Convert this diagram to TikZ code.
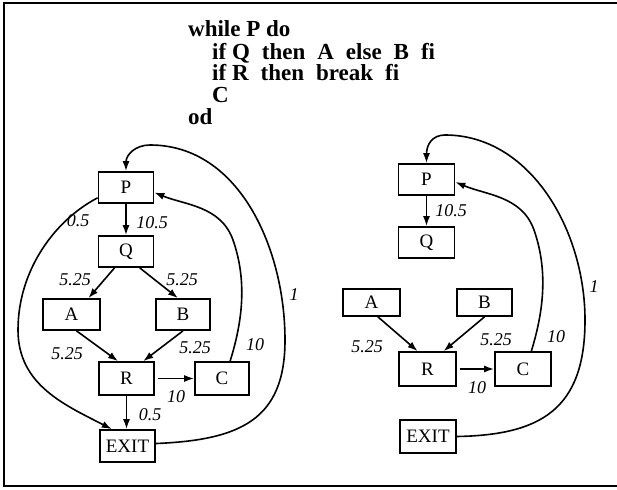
\documentclass[tikz,border=0pt]{standalone}
\usepackage{fontspec}
\setmainfont{Liberation Serif}
\usetikzlibrary{arrows.meta}
\newcommand{\gp}{\hspace{12pt}}
\tikzset{
  box/.style={draw, line width=1.7pt, inner sep=0pt, font=\fontsize{19}{19}\selectfont},
  edge/.style={line width=1.6pt, -{Latex[length=10pt,width=7pt]}},
  lbl/.style={font=\fontsize{18}{18}\selectfont\itshape, inner sep=0pt},
  code/.style={font=\fontsize{23}{23}\selectfont\bfseries, inner sep=0pt, anchor=base west},
}
\begin{document}
\begin{tikzpicture}[x=1pt,y=1pt]
\useasboundingbox (0,0) rectangle (617,-489);
\draw[line width=2.2pt] (617,-3) -- (4,-3) -- (4,-486) -- (617,-486);

% code
\node[code] (c1) at (188,-37) {while P do};
\node[code] (c2) at (212,-59.5) {if Q\gp then\gp A\gp else\gp B\gp fi};
\node[code] (c3) at (212,-81) {if R\gp then\gp break\gp fi};
\node[code] (c4) at (212,-103) {C};
\node[code] (c5) at (188,-125) {od};

% left graph
\node[box, minimum width=55pt, minimum height=31pt] (P) at (126,-187.5) {P};
\node[box, minimum width=55pt, minimum height=31pt] (Q) at (126,-251.5) {Q};
\node[box, minimum width=57pt, minimum height=31pt] (A) at (71.5,-314.5) {A};
\node[box, minimum width=54pt, minimum height=31pt] (B) at (183,-314.5) {B};
\node[box, minimum width=55pt, minimum height=33pt] (R) at (126.5,-378.5) {R};
\node[box, minimum width=54pt, minimum height=33pt] (C) at (222,-378.5) {C};
\node[box, minimum width=55pt, minimum height=32pt] (EXIT) at (127.5,-446) {EXIT};

\draw[edge] (P.south) -- (Q.north);
\draw[edge] (Q.-125) -- (A.44);
\draw[edge] (Q.-50) -- (B.107);
\draw[edge] (A.-73) -- (R.116);
\draw[edge] (B.south) -- (R.46);
\draw[edge, shorten <=3pt] (R.east) -- (C.west);
\draw[edge] (R.south) -- (R.south |- EXIT.north);
\draw[edge] (P.200) .. controls (55,-220) and (18,-270) .. (18,-330)
  .. controls (18,-385) and (65,-405) .. (EXIT.133);
\draw[edge] (C.65) .. controls (243,-320) and (247,-280) .. (233,-240)
  .. controls (221,-206) and (185,-205) .. (P.-10);
\draw[edge] (EXIT.5) .. controls (240,-440) and (285,-420) .. (285,-340)
  .. controls (285,-250) and (240,-145) .. (150,-145)
  .. controls (135,-145) and (126,-155) .. (P.north);

\node[lbl] (l1) at (78,-221) {0.5};
\node[lbl] (l2) at (152,-223) {10.5};
\node[lbl] (l3) at (75,-280) {5.25};
\node[lbl] (l4) at (182,-280) {5.25};
\node[lbl] (l5) at (67,-354) {5.25};
\node[lbl] (l6) at (195,-348) {5.25};
\node[lbl] (l7) at (255,-345) {10};
\node[lbl] (l8) at (176,-397) {10};
\node[lbl] (l9) at (150,-415) {0.5};
\node[lbl] (l10) at (294,-295) {1};

% right graph
\node[box, minimum width=56pt, minimum height=31pt] (P2) at (426.5,-179.5) {P};
\node[box, minimum width=56pt, minimum height=31pt] (Q2) at (426.5,-242.5) {Q};
\node[box, minimum width=57pt, minimum height=27pt] (A2) at (371.5,-302.5) {A};
\node[box, minimum width=55pt, minimum height=27pt] (B2) at (484.5,-302.5) {B};
\node[box, minimum width=57pt, minimum height=34pt] (R2) at (427.5,-369) {R};
\node[box, minimum width=56pt, minimum height=34pt] (C2) at (523,-369) {C};
\node[box, minimum width=56pt, minimum height=33pt] (EXIT2) at (428,-436.5) {EXIT};

\draw[edge] (P2.south) -- (Q2.north);
\draw[edge] (A2.-66) -- (R2.119);
\draw[edge] (B2.south) -- (R2.48);
\draw[edge, shorten <=3pt] (R2.east) -- (C2.west);
\draw[edge] (C2.65) .. controls (544,-310) and (548,-270) .. (534,-230)
  .. controls (522,-196) and (486,-195) .. (P2.-5);
\draw[edge] (EXIT2.east) .. controls (540,-435) and (585,-410) .. (585,-320)
  .. controls (585,-230) and (530,-135) .. (445,-135)
  .. controls (432,-135) and (426.5,-145) .. (P2.north);

\node[lbl] (r2) at (451,-211) {10.5};
\node[lbl] (r5) at (367,-347) {5.25};
\node[lbl] (r6) at (496,-340) {5.25};
\node[lbl] (r7) at (556,-337) {10};
\node[lbl] (r8) at (477,-388) {10};
\node[lbl] (r10) at (594,-287) {1};
\end{tikzpicture}
\end{document}
